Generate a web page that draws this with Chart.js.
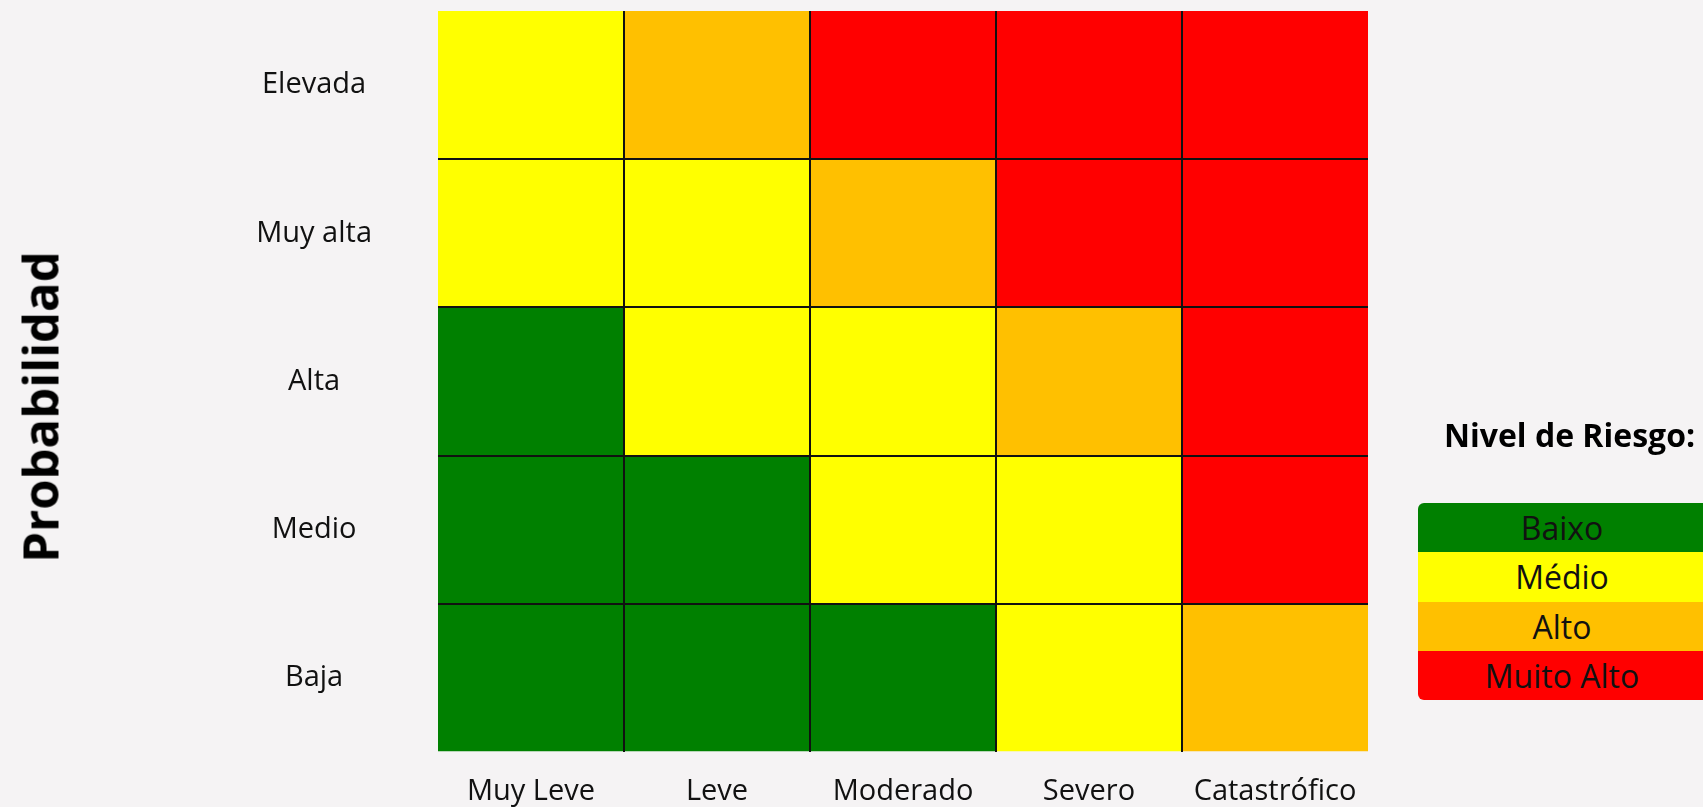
<!DOCTYPE html>
<html lang="es">
<head>
<meta charset="utf-8">
<title>Matriz de Riesgo</title>
<script src="https://cdn.jsdelivr.net/npm/chart.js@4.4.1/dist/chart.umd.min.js"></script>
<style>
    html, body {
        margin: 0;
        padding: 0;
        background: #f5f3f4;
        font-family: "Open Sans", sans-serif;
    }
    .page {
        position: relative;
        width: 1703px;
        height: 807px;
        overflow: hidden;
    }
    #riskChart {
        position: absolute;
        left: 0;
        top: 0;
    }
    /* rotated axis title, centred on (40, 407) */
    .axis-title {
        position: absolute;
        left: 40px;
        top: 407px;
        transform: translate(-50%, -50%) rotate(-90deg);
        font-weight: 700;
        font-size: 49px;
        line-height: 1;
        color: #000;
        white-space: nowrap;
    }
    .legend-title {
        position: absolute;
        left: 1436px;
        top: 413px;
        width: 267px;
        text-align: center;
        font-weight: 700;
        font-size: 32px;
        color: #000;
        white-space: nowrap;
    }
    .risk-legend {
        position: absolute;
        left: 1418px;
        top: 503px;
        width: 288px;
        border-radius: 6px 0 0 6px;
        overflow: hidden;
    }
    .risk-legend .row {
        height: 49.25px;
        line-height: 49px;
        text-align: center;
        font-size: 32px;
        color: #111;
    }
</style>
</head>
<body>
<div class="page">
    <canvas id="riskChart" width="1703" height="807"></canvas>
    <div class="axis-title">Probabilidad</div>
    <div class="legend-title">Nivel de Riesgo:</div>
    <div class="risk-legend" id="risk-legend"></div>
</div>

<script>
// Impact categories (x axis)
const impactLabels = ['Muy Leve', 'Leve', 'Moderado', 'Severo', 'Catastrófico'];

// Probability categories, bottom to top
const probabilityLabels = ['Baja', 'Medio', 'Alta', 'Muy alta', 'Elevada'];

// Risk levels and their colours
const riskLevels = ['Baixo', 'Médio', 'Alto', 'Muito Alto'];
const riskColors = ['#008000', '#ffff00', '#ffc000', '#ff0000'];

// One row per probability (same order as probabilityLabels)
const rowBaja     = ['Baixo', 'Baixo', 'Baixo', 'Médio', 'Alto'];
const rowMedio    = ['Baixo', 'Baixo', 'Médio', 'Médio', 'Muito Alto'];
const rowAlta     = ['Baixo', 'Médio', 'Médio', 'Alto', 'Muito Alto'];
const rowMuyAlta  = ['Médio', 'Médio', 'Alto', 'Muito Alto', 'Muito Alto'];
const rowElevada  = ['Médio', 'Alto', 'Muito Alto', 'Muito Alto', 'Muito Alto'];
const riskRows = [rowBaja, rowMedio, rowAlta, rowMuyAlta, rowElevada];

const colorFor = level => riskColors[riskLevels.indexOf(level)];

document.addEventListener('DOMContentLoaded', () => {
    buildLegend();
    drawMatrix();
});

function buildLegend() {
    const box = document.getElementById('risk-legend');
    box.innerHTML = riskLevels.map((lvl, i) =>
        `<div class="row" style="background:${riskColors[i]}">${lvl}</div>`
    ).join('');
}

// no extra vertical padding from the side axes
function noPad(s) {
    s.paddingTop = 0;
    s.paddingBottom = 0;
}

function drawMatrix() {
    const ctx = document.getElementById('riskChart');
    const lineColor = '#111';
    const tickFont = { family: '"Open Sans", sans-serif', size: 29 };

    // each probability row is a stacked dataset, one unit tall per cell
    const datasets = riskRows.map((row, i) => ({
        label: probabilityLabels[i],
        data: row.map(() => 1),
        backgroundColor: row.map(colorFor),
        borderWidth: 0,
        barPercentage: 1,
        categoryPercentage: 1,
        stack: 'matrix'
    }));

    new Chart(ctx, {
        type: 'bar',
        data: { labels: impactLabels, datasets },
        options: {
            responsive: false,
            animation: false,
            layout: { padding: { top: 11, right: 335, left: 0, bottom: 0 } },
            plugins: {
                legend: { display: false },
                tooltip: { enabled: false }
            },
            scales: {
                x: {
                    stacked: true,
                    offset: true,
                    border: { display: false },
                    grid: {
                        z: 1,
                        offset: true,
                        drawTicks: false,
                        lineWidth: 2,
                        color: c => (c.type !== 'tick' || c.index === 0) ? 'transparent' : lineColor
                    },
                    ticks: {
                        font: tickFont,
                        color: '#111',
                        padding: 22,
                        maxRotation: 0,
                        autoSkip: false
                    },
                    afterFit: s => { s.height = 55; }
                },
                y: {
                    stacked: true,
                    min: 0,
                    max: probabilityLabels.length,
                    border: { display: false },
                    grid: {
                        z: 1,
                        drawTicks: false,
                        lineWidth: 2,
                        color: c => (c.tick && c.tick.value > 0 && c.tick.value < probabilityLabels.length) ? lineColor : 'transparent'
                    },
                    ticks: { display: false, stepSize: 1 },
                    afterFit: s => { s.width = 0; noPad(s); }
                },
                yLabels: {
                    type: 'category',
                    position: 'left',
                    labels: [...probabilityLabels].reverse(),
                    offset: true,
                    border: { display: false },
                    grid: { display: false },
                    ticks: {
                        font: tickFont,
                        color: '#111',
                        crossAlign: 'center',
                        padding: 58
                    },
                    afterFit: s => { s.width = 438; noPad(s); }
                }
            }
        }
    });
}
</script>
</body>
</html>
